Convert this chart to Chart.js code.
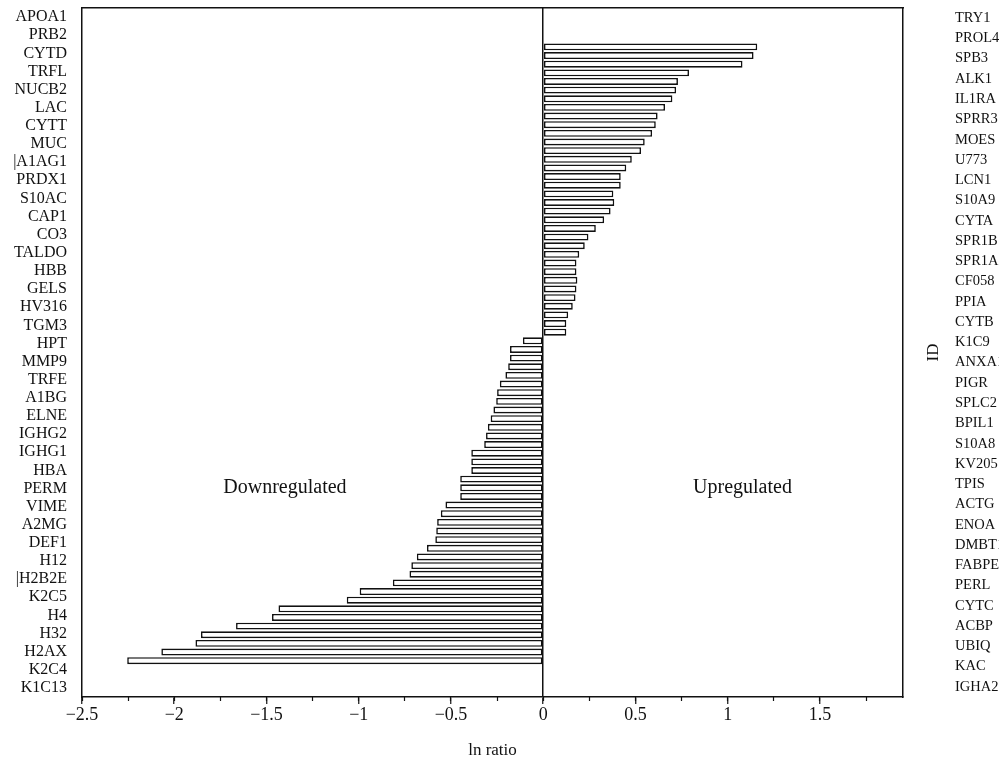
<!DOCTYPE html>
<html>
<head>
<meta charset="utf-8">
<title>ln ratio by protein</title>
<script src="https://cdn.jsdelivr.net/npm/chart.js@4.4.1/dist/chart.umd.min.js"></script>
<style>
  body { margin: 0; background: #fff; }
  canvas { display: block; }
</style>
</head>
<body>
<canvas id="myChart" width="999" height="773"></canvas>
<script>
// ids printed down the left and right side
var leftLabels = ['APOA1', 'PRB2', 'CYTD', 'TRFL', 'NUCB2', 'LAC', 'CYTT', 'MUC', '|A1AG1', 'PRDX1',
  'S10AC', 'CAP1', 'CO3', 'TALDO', 'HBB', 'GELS', 'HV316', 'TGM3', 'HPT', 'MMP9',
  'TRFE', 'A1BG', 'ELNE', 'IGHG2', 'IGHG1', 'HBA', 'PERM', 'VIME', 'A2MG', 'DEF1',
  'H12', '|H2B2E', 'K2C5', 'H4', 'H32', 'H2AX', 'K2C4', 'K1C13'];
var rightLabels = ['TRY1', 'PROL4', 'SPB3', 'ALK1', 'IL1RA', 'SPRR3', 'MOES', 'U773', 'LCN1', 'S10A9',
  'CYTA', 'SPR1B', 'SPR1A', 'CF058', 'PPIA', 'CYTB', 'K1C9', 'ANXA1', 'PIGR', 'SPLC2',
  'BPIL1', 'S10A8', 'KV205', 'TPIS', 'ACTG', 'ENOA', 'DMBT1', 'FABPE', 'PERL', 'CYTC',
  'ACBP', 'UBIQ', 'KAC', 'IGHA2'];

// ln ratio of each bar, top to bottom
var upValues = [1.16, 1.14, 1.08, 0.79, 0.73, 0.72, 0.70, 0.66, 0.62, 0.61,
  0.59, 0.55, 0.53, 0.48, 0.45, 0.42, 0.42, 0.38, 0.385, 0.365,
  0.33, 0.285, 0.245, 0.225, 0.195, 0.18, 0.18, 0.185, 0.18, 0.175,
  0.16, 0.135, 0.125, 0.125];
var downValues = [-0.11, -0.18, -0.18, -0.19, -0.205, -0.235, -0.25, -0.255, -0.27, -0.285,
  -0.30, -0.31, -0.32, -0.39, -0.39, -0.39, -0.45, -0.45, -0.45, -0.53,
  -0.555, -0.575, -0.58, -0.585, -0.63, -0.685, -0.715, -0.725, -0.815, -0.995,
  -1.065, -1.435, -1.47, -1.665, -1.855, -1.885, -2.07, -2.255];

var xTicks = [-2.5, -2, -1.5, -1, -0.5, 0, 0.5, 1, 1.5];

var serif = 'Liberation Serif';
var ink = '#111111';

// one bar per row, rows counted from the top
var barData = upValues.concat(downValues).map(function(v, i) {
  return { x: v, y: i };
});

var minusSign = function(v) {
  return v < 0 ? '\u2212' + Math.abs(v) : String(v);
};

// text inside the plot and the rotated ID title
var notes = {
  id: 'notes',
  afterDraw: function(chart) {
    var c = chart.ctx;
    var xs = chart.scales.x;
    var ys = chart.scales.y;
    var area = chart.chartArea;
    c.save();
    c.fillStyle = ink;
    c.textAlign = 'center';
    c.textBaseline = 'middle';
    c.font = '20px "' + serif + '"';
    c.fillText('Downregulated', xs.getPixelForValue(-1.4), ys.getPixelForValue(51));
    c.fillText('Upregulated', xs.getPixelForValue(1.08), ys.getPixelForValue(51));
    c.font = '17px "' + serif + '"';
    c.translate(chart.scales.yId.left + 31, (area.top + area.bottom) / 2);
    c.rotate(-Math.PI / 2);
    c.fillText('ID', 0, 0);
    c.restore();
  }
};

var frame = { color: ink, width: 1.5 };

var ctx = document.getElementById('myChart').getContext('2d');
var myChart = new Chart(ctx, {
  type: 'bar',
  data: {
    datasets: [{
      data: barData,
      xAxisID: 'x',
      yAxisID: 'y',
      backgroundColor: '#ffffff',
      borderColor: ink,
      borderWidth: 1.6,
      borderSkipped: false,
      barPercentage: 0.8,
      categoryPercentage: 1
    }]
  },
  options: {
    indexAxis: 'y',
    responsive: false,
    devicePixelRatio: 1,
    animation: false,
    layout: { padding: 0 },
    plugins: {
      legend: { display: false },
      tooltip: { enabled: false }
    },
    scales: {
      x: {
        type: 'linear',
        position: 'bottom',
        min: -2.5,
        max: 1.95,
        afterBuildTicks: function(s) {
          s.ticks = xTicks.map(function(v) { return { value: v }; });
        },
        afterFit: function(s) { s.height = 76; },
        grid: {
          drawOnChartArea: true,
          color: function(c) {
            return c.tick && c.tick.value === 0 ? ink : 'rgba(0,0,0,0)';
          },
          lineWidth: 1.5,
          tickColor: ink,
          tickLength: 7,
          tickWidth: 1.2
        },
        border: frame,
        ticks: {
          color: ink,
          font: { family: serif, size: 18 },
          padding: 0,
          maxRotation: 0,
          callback: minusSign
        },
        title: {
          display: true,
          text: 'ln ratio',
          color: ink,
          font: { family: serif, size: 17 },
          padding: { top: 4, bottom: 12 }
        }
      },
      // short minor ticks every 0.25
      xMinor: {
        type: 'linear',
        position: 'bottom',
        weight: -1,
        min: -2.5,
        max: 1.95,
        afterFit: function(s) { s.height = 0; },
        grid: {
          drawOnChartArea: false,
          color: ink,
          tickLength: 4,
          tickWidth: 1.2
        },
        border: { display: false },
        ticks: { display: false, stepSize: 0.25, includeBounds: false }
      },
      xTop: {
        type: 'linear',
        position: 'top',
        afterFit: function(s) { s.height = 8; },
        grid: { display: false, drawTicks: false },
        border: frame,
        ticks: { display: false }
      },
      y: {
        type: 'linear',
        display: false,
        reverse: true,
        offset: false,
        min: -4.5,
        max: 75.2
      },
      yLeft: {
        type: 'category',
        position: 'left',
        labels: leftLabels,
        offset: true,
        afterFit: function(s) { s.width = 82; s.paddingTop = 0; s.paddingBottom = 0; },
        grid: { display: false, drawTicks: false },
        border: frame,
        ticks: {
          autoSkip: false,
          padding: 15,
          color: ink,
          font: { family: serif, size: 16 }
        }
      },
      yId: {
        type: 'linear',
        position: 'right',
        weight: 1,
        afterFit: function(s) { s.width = 46; s.paddingTop = 0; s.paddingBottom = 0; },
        grid: { display: false, drawTicks: false },
        border: frame,
        ticks: { display: false }
      },
      yRight: {
        type: 'category',
        position: 'right',
        weight: 2,
        labels: rightLabels,
        offset: true,
        afterFit: function(s) { s.width = 50; s.paddingTop = 0; s.paddingBottom = 0; },
        grid: { display: false, drawTicks: false },
        border: { display: false },
        ticks: {
          autoSkip: false,
          padding: 6,
          color: ink,
          font: { family: serif, size: 14.5 }
        }
      }
    }
  },
  plugins: [notes]
});
</script>
</body>
</html>
